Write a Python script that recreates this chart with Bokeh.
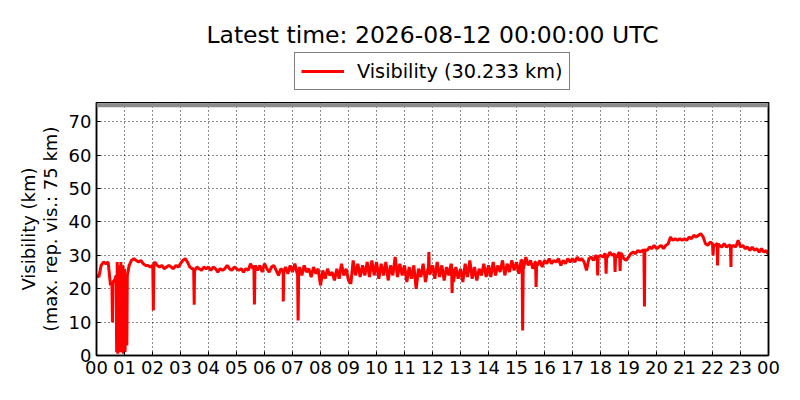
from bokeh.plotting import figure
from bokeh.models import (Legend, LegendItem, LinearAxis, FixedTicker, Span,
                          Range1d, ColumnDataSource, Label)
from bokeh.layouts import column
from bokeh.embed import file_html
from bokeh.resources import INLINE

# ---------------- data (hours since 00 UTC, visibility in km) ----------------
# base series, one value every 5 minutes from 00:00 to 24:00
vis_base = [
    # 00h
    24, 23.5, 27, 28, 27.5, 28, 21, 22, 23, 5, 27, 2,
    # 01h
    26, 3, 27, 28.5, 29, 28.5, 28, 28.5, 27.5, 27, 27, 26.5,
    # 02h
    27, 28, 27, 26.5, 27, 26, 26.5, 27, 26.5, 26, 27, 26.5,
    # 03h
    27.5, 28.5, 29, 28, 26.5, 26, 25, 26.5, 26, 25.5, 26.5, 26,
    # 04h
    26.5, 25.5, 26.5, 26, 25, 26, 25.5, 26, 27, 26, 25.5, 26.5,
    # 05h
    26, 25.5, 26, 25, 26, 25.5, 27.5, 26, 27, 25.5, 27, 25,
    # 06h
    27.5, 26, 25, 26.5, 27, 25.5, 24, 26, 25, 26.5, 24.5, 27,
    # 07h
    25, 27.5, 24.5, 26.5, 24, 27, 25, 26, 23.5, 26.5, 24.5, 26,
    # 08h
    21, 25.5, 23, 26, 24, 25, 22.5, 26, 23, 27.5, 24, 26,
    # 09h
    22.5, 21.5, 28.5, 24, 27.5, 23.5, 27, 24, 28, 23.5, 28.5, 24,
    # 10h
    28, 23, 27.5, 24, 28, 22.5, 27, 24, 29.5, 23.5, 27.5, 24,
    # 11h
    27, 22, 26.5, 23, 27, 20, 26, 23.5, 27.5, 22, 26, 24.5,
    # 12h
    27, 23, 28, 23.5, 27, 22.5, 26.5, 24, 27.5, 22, 26.5, 23,
    # 13h
    26, 22, 27.5, 23.5, 28.5, 23, 26.5, 22.5, 26, 24, 27.5, 23.5,
    # 14h
    27, 23.5, 28, 24, 27, 25, 28.5, 24, 27.5, 25, 28.5, 25.5,
    # 15h
    28, 24.5, 28.5, 26, 29.5, 27, 28.5, 26, 28, 27, 28.5, 26.5,
    # 16h
    28.5, 27.5, 29, 27.5, 28.5, 28, 29, 27, 28.5, 27.5, 29, 28,
    # 17h
    29, 28, 29.5, 28.5, 29, 28, 25.5, 29, 29.5, 28.5, 30, 29,
    # 18h
    30, 29.5, 30.5, 29.5, 31, 30, 30.5, 29.5, 31, 30.5, 29, 28.5,
    # 19h
    29.5, 30.5, 31, 30.5, 31.5, 31, 31.5, 32, 31.5, 32.5, 32, 33,
    # 20h
    32, 32.5, 33, 32, 33, 33.5, 35.5, 34.5, 35, 34.5, 35, 34.5,
    # 21h
    35, 34.5, 35.5, 35, 36, 35.5, 36, 36.5, 35.5, 33.5, 33, 34,
    # 22h
    33.5, 33, 33.5, 33, 32.5, 33.5, 32.5, 33, 32, 33, 32.5, 34.5,
    # 23h
    32.5, 33, 32, 32.5, 31.5, 32.5, 31.5, 32, 31, 32, 31, 31.5,
    # 24h
    30.233,
]

# short-lived drops / peaks (with their shoulders)
spike_hours = [
    0.55, 0.57, 0.59,
    0.70, 0.72, 0.74, 0.76, 0.79, 0.81, 0.85, 0.87, 0.89, 0.94, 0.96, 0.98,
    1.02, 1.05, 1.10,
    2.01, 2.03, 2.05,
    3.47, 3.49, 3.51,
    5.62, 5.64, 5.66,
    6.65, 6.67, 6.69,
    7.18, 7.20, 7.22,
    11.85, 11.87, 11.89,
    12.68, 12.70, 12.72,
    15.20, 15.22, 15.24,
    15.68, 15.70, 15.72,
    17.88, 17.90, 17.92,
    18.18, 18.20, 18.22,
    18.50, 18.52, 18.54,
    18.68, 18.70, 18.72,
    19.55, 19.57, 19.59,
    22.00, 22.02, 22.04,
    22.16, 22.18, 22.20,
    22.64, 22.66, 22.68,
]
spike_values = [
    22, 10, 22,
    24, 1, 28, 0.5, 26, 1, 1.5, 28, 1, 27, 0.5, 25,
    1, 22, 24,
    27, 13.5, 27.5,
    26, 15.2, 25.5,
    27, 15.3, 26.5,
    25.5, 16.2, 25,
    25, 10.5, 25,
    25, 31, 24.5,
    27, 18.7, 26,
    28.5, 7.5, 27,
    28, 20.5, 27.5,
    29.5, 24, 29.5,
    30, 24.5, 30,
    30.5, 25, 30,
    30.5, 25.3, 30.5,
    31.5, 14.7, 31.5,
    33.5, 30, 33,
    33.5, 27, 33.5,
    33, 26.5, 32.5,
]

hour_labels = ["00", "01", "02", "03", "04", "05", "06", "07", "08", "09",
               "10", "11", "12", "13", "14", "15", "16", "17", "18", "19",
               "20", "21", "22", "23", "00"]
y_ticks = [0, 10, 20, 30, 40, 50, 60, 70]
max_reported = 75
latest_label = "Visibility (30.233 km)"
title_text = "Latest time: 2026-08-12 00:00:00 UTC"

# ---------------- assemble series ----------------
base_hours = [i / 12 for i in range(len(vis_base))]
pairs = sorted(list(zip(base_hours, vis_base)) + list(zip(spike_hours, spike_values)))
src = ColumnDataSource(dict(h=[p[0] for p in pairs], v=[p[1] for p in pairs]))

FONT = "DejaVu Sans"
LINE_KW = dict(line_color="#ff0000", line_width=3)

# ---------------- header: title + legend ----------------
head = figure(width=800, height=102, x_range=Range1d(0, 24),
              y_range=Range1d(1000, 1001),
              x_axis_location=None, y_axis_location=None,
              min_border=0, outline_line_color=None,
              output_backend="svg", toolbar_location=None)
head.xgrid.visible = False
head.ygrid.visible = False
head_line = head.line("h", "v", source=src, **LINE_KW)  # lies outside the header's range
head.add_layout(Label(x=336, y=68, x_units="screen", y_units="screen",
                      text=title_text, text_align="center",
                      text_baseline="alphabetic", text_font=FONT,
                      text_font_size="23.5px", text_color="black"))
legend = Legend(items=[LegendItem(label=latest_label, renderers=[head_line])],
                location=(198, 12), orientation="vertical",
                margin=0, padding=6, glyph_width=43, glyph_height=24,
                label_height=24, label_standoff=13,
                label_text_font=FONT, label_text_font_size="19.3px",
                label_text_color="black",
                border_line_color="black", border_line_width=1.2,
                background_fill_color="white", background_fill_alpha=1)
head.add_layout(legend, "center")

# ---------------- main plot ----------------
p = figure(frame_width=672, frame_height=253,
           min_border_left=96, min_border_right=32,
           min_border_bottom=45, min_border_top=0,
           x_range=Range1d(0, 24), y_range=Range1d(0, 75.8),
           output_backend="svg", toolbar_location=None,
           background_fill_color="white", border_fill_color="white")

p.line("h", "v", source=src, **LINE_KW)

p.add_layout(Span(location=max_reported, dimension="width",
                  line_color="#8c8c8c", line_width=4))

p.outline_line_color = "black"
p.outline_line_width = 1.5

xa = p.xaxis[0]
xa.ticker = FixedTicker(ticks=list(range(25)))
xa.major_label_overrides = {i: lab for i, lab in enumerate(hour_labels)}
ya = p.yaxis[0]
ya.ticker = FixedTicker(ticks=y_ticks)
ya.axis_label = "Visibility (km)\n(max. rep. vis.: 75 km)"
for ax in (xa, ya):
    ax.major_label_text_font = FONT
    ax.major_label_text_font_size = "18px"
    ax.major_label_text_color = "black"
    ax.axis_line_color = "black"
    ax.axis_line_width = 1.5
    ax.major_tick_in = 4
    ax.major_tick_out = 0
    ax.major_tick_line_color = "black"
    ax.minor_tick_line_color = None
ya.axis_label_text_font = FONT
ya.axis_label_text_font_size = "18px"
ya.axis_label_text_font_style = "normal"
ya.axis_label_text_color = "black"
ya.axis_label_text_line_height = 1.05
ya.axis_label_standoff = 5
xa.major_label_standoff = 5

ra = LinearAxis(ticker=FixedTicker(ticks=y_ticks), major_label_text_color=None,
                major_tick_in=4, major_tick_out=0, minor_tick_line_color=None,
                axis_line_color="black", axis_line_width=1.5)
p.add_layout(ra, "right")

for g in (p.xgrid[0], p.ygrid[0]):
    g.grid_line_color = "black"
    g.grid_line_dash = "1 3"
    g.grid_line_width = 1
    g.grid_line_alpha = 0.9
p.xgrid[0].ticker = FixedTicker(ticks=list(range(25)))
p.ygrid[0].ticker = FixedTicker(ticks=y_ticks)

layout = column(head, p, spacing=0)
open("out.html", "w").write(file_html(layout, INLINE))
